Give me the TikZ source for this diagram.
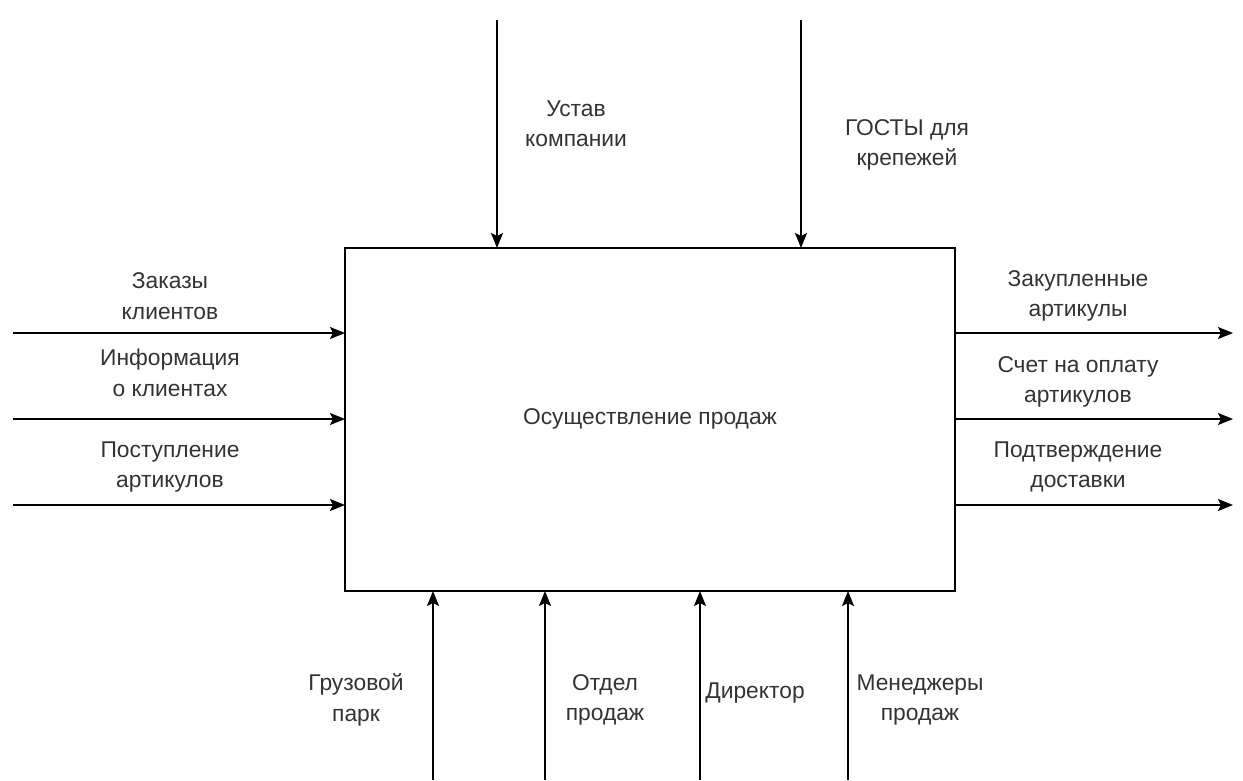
\documentclass[tikz,border=0pt]{standalone}
\usepackage{fontspec}
\setmainfont{Liberation Sans}
\usetikzlibrary{arrows.meta}
\begin{document}
\begin{tikzpicture}[x=1pt,y=-1pt,
  conn/.style={line width=1.6pt,-{Stealth[length=15pt,width=12pt,inset=3pt]}},
  lbl/.style={align=center,font=\fontsize{22.8}{30.5}\selectfont,text=black!80,inner sep=0pt},
  boxst/.style={draw,line width=1.8pt,minimum width=610pt,minimum height=343pt,inner sep=0pt}]
\useasboundingbox (0,0) rectangle (1243,780);
\node[boxst] (F) at (650,419.5) {};
\node[lbl] (ftxt) at (650,419) {Осуществление продаж};
% controls
\coordinate (c1s) at (497,20); \coordinate (c1e) at (497,248);
\coordinate (c2s) at (801,20); \coordinate (c2e) at (801,248);
\draw[conn] (c1s) -- (c1e);
\draw[conn] (c2s) -- (c2e);
\node[lbl] (c1l) at (576,124) {Устав\\компании};
\node[lbl] (c2l) at (907,145) {ГОСТЫ для\\крепежей};
% inputs
\foreach \y/\n in {333/i1,419/i2,505/i3}{
  \coordinate (\n s) at (13,\y); \coordinate (\n e) at (345,\y);
  \draw[conn] (\n s) -- (\n e);
}
\node[lbl] (i1l) at (170,296) {Заказы\\клиентов};
\node[lbl] (i2l) at (170,373) {Информация\\о клиентах};
\node[lbl] (i3l) at (170,467) {Поступление\\артикулов};
% outputs
\foreach \y/\n in {333/o1,419/o2,505/o3}{
  \coordinate (\n s) at (955,\y); \coordinate (\n e) at (1233,\y);
  \draw[conn] (\n s) -- (\n e);
}
\node[lbl] (o1l) at (1078,296) {Закупленные\\артикулы};
\node[lbl] (o2l) at (1078,382) {Счет на оплату\\артикулов};
\node[lbl] (o3l) at (1078,467) {Подтверждение\\доставки};
% mechanisms
\foreach \x/\n in {433/m1,545/m2,700/m3,848/m4}{
  \coordinate (\n s) at (\x,780); \coordinate (\n e) at (\x,591);
  \draw[conn] (\n s) -- (\n e);
}
\node[lbl] (m1l) at (356,700) {Грузовой\\парк};
\node[lbl] (m2l) at (605,700) {Отдел\\продаж};
\node[lbl] (m3l) at (755,693) {Директор};
\node[lbl] (m4l) at (920,700) {Менеджеры\\продаж};
\end{tikzpicture}
\end{document}
